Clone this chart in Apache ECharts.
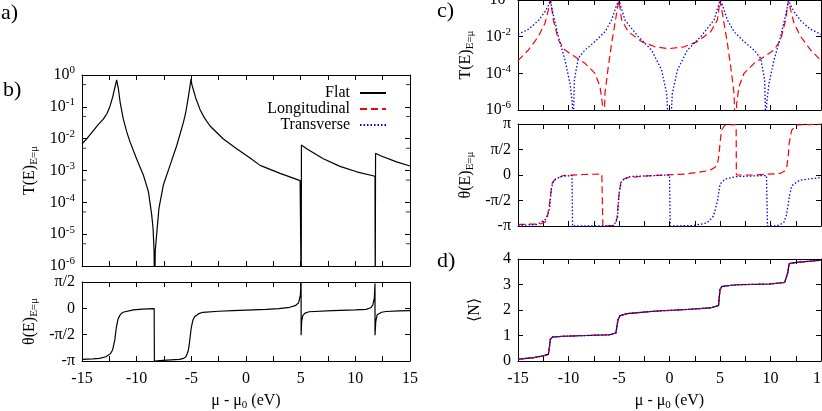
<!DOCTYPE html>
<html>
<head>
<meta charset="UTF-8">
<title>Transmission, phase and occupation vs chemical potential</title>
<script src="https://cdn.jsdelivr.net/npm/echarts@6.0.0/dist/echarts.min.js"></script>
<style>
  html, body { margin: 0; padding: 0; background: #fff; }
  #chart { width: 822px; height: 411px; }
</style>
</head>
<body>
<div id="chart"></div>
<script>
// ---- data (x = mu - mu0 in eV) ----
// panel b: flat molecule, transmission at E = mu
var bFlatT = [
  [-15, 6.9e-3], [-14.5, 1.05e-2], [-13.96, 1.8e-2], [-13.5, 2.8e-2], [-13.05, 4.1e-2],
  [-12.7, 6.3e-2], [-12.44, 0.105], [-12.2, 0.2], [-12.04, 0.35], [-11.92, 0.52], [-11.83, 0.7],
  [-11.75, 0.5], [-11.68, 0.39], [-11.5, 0.13], [-11.22, 4.1e-2], [-10.9, 1.6e-2], [-10.6, 7.8e-3],
  [-10.0, 2.3e-3], [-9.39, 7.2e-4], [-8.93, 2.2e-4], [-8.63, 4.2e-5], [-8.5, 1.5e-5], [-8.41, 3e-6],
  [-8.36, 1e-7], [-8.3, 3e-6], [-8.17, 1e-5], [-7.96, 6.6e-5], [-7.56, 3.5e-4], [-6.95, 1.45e-3],
  [-6.34, 6e-3], [-5.73, 3.2e-2], [-5.5, 7e-2], [-5.27, 0.21], [-5.12, 0.45], [-5.03, 0.74],
  [-4.95, 0.5], [-4.82, 0.35], [-4.6, 0.19], [-4.21, 8.3e-2], [-3.8, 4.5e-2], [-3.29, 2.5e-2],
  [-2.07, 9.8e-3], [-0.85, 4.8e-3], [0.37, 2.45e-3], [1.29, 1.45e-3], [3.12, 8.1e-4],
  [4.95, 4.8e-4], [5.03, 4.2e-4], [5.05, 1e-7], [5.07, 6.3e-3], [5.55, 4.8e-3], [7.07, 2.35e-3],
  [8.6, 1.35e-3], [10.12, 9.1e-4], [11.8, 6.6e-4], [11.82, 1e-7], [11.85, 3.5e-3],
  [12.25, 2.95e-3], [13.77, 1.86e-3], [15, 1.38e-3]
];
// panel b: phase, in units of pi
var bFlatTheta = [
  [-15, -0.97], [-14, -0.96], [-13.4, -0.95], [-12.8, -0.92], [-12.4, -0.86], [-12.2, -0.79],
  [-12.0, -0.6], [-11.86, -0.36], [-11.7, -0.2], [-11.5, -0.12], [-11.25, -0.075], [-10.3, -0.03],
  [-9.5, -0.015], [-8.4, -0.005], [-8.38, -1.0], [-7.6, -0.99], [-6.1, -0.97], [-5.7, -0.95],
  [-5.5, -0.92], [-5.3, -0.82], [-5.2, -0.7], [-5.0, -0.36], [-4.85, -0.22], [-4.7, -0.16],
  [-4.3, -0.1], [-3.95, -0.075], [-2.5, -0.055], [-1.2, -0.045], [0, -0.035], [1.85, -0.02],
  [3.0, -0.005], [4.0, 0.02], [4.5, 0.05], [4.8, 0.1], [4.97, 0.25], [5.04, 0.5], [5.04, -0.51],
  [5.09, -0.25], [5.19, -0.14], [5.4, -0.09], [5.76, -0.065], [7.9, -0.045], [10.0, -0.03],
  [11.0, -0.02], [11.4, 0.01], [11.6, 0.06], [11.74, 0.2], [11.8, 0.47], [11.8, -0.51],
  [11.87, -0.25], [12.0, -0.12], [12.4, -0.075], [12.8, -0.06], [14, -0.05], [15, -0.045]
];
// panel c: transmission
var cLongT = [
  [-15, 4.9e-4], [-13.98, 1.86e-3], [-12.99, 1e-2], [-12.33, 5.4e-2], [-12.0, 0.28], [-11.77, 0.95],
  [-11.5, 8.1e-2], [-11.0, 6.6e-3], [-10.35, 1.86e-3], [-9.36, 8.1e-4], [-8.37, 3.5e-4],
  [-7.38, 1e-4], [-6.88, 1.9e-5], [-6.65, 2.3e-6], [-6.55, 1e-8], [-6.39, 8.1e-6], [-6.06, 2.3e-4],
  [-5.73, 4.4e-3], [-5.4, 5.4e-2], [-5.07, 0.66], [-5.0, 0.95], [-4.74, 8.1e-2], [-4.08, 1.86e-2],
  [-2.76, 5.4e-3], [-1.44, 2.8e-3], [-0.12, 2.2e-3], [1.44, 2.8e-3], [2.76, 5.4e-3],
  [4.08, 1.86e-2], [4.74, 8.1e-2], [5.0, 0.95], [5.07, 0.66], [5.4, 5.4e-2], [5.73, 4.4e-3],
  [6.06, 2.3e-4], [6.39, 8.1e-6], [6.55, 1e-8], [6.65, 2.3e-6], [6.88, 1.9e-5], [7.38, 1e-4],
  [8.37, 3.5e-4], [9.36, 8.1e-4], [10.35, 1.86e-3], [11.0, 6.6e-3], [11.5, 8.1e-2], [11.77, 0.95],
  [12.0, 0.28], [12.33, 5.4e-2], [12.99, 1e-2], [13.98, 1.86e-3], [15, 4.9e-4]
];
var cTransT = [
  [-15, 1.35e-2], [-13.98, 2.5e-2], [-12.99, 7.4e-2], [-12.33, 0.23], [-12.0, 0.5], [-11.8, 0.95],
  [-11.5, 0.15], [-11.0, 1e-2], [-10.35, 5.4e-4], [-9.85, 2.8e-5], [-9.62, 2.3e-6], [-9.59, 1e-8],
  [-9.42, 4.4e-5], [-9.03, 6.6e-4], [-8.37, 1.86e-3], [-7.38, 5.4e-3], [-6.39, 1.86e-2],
  [-5.73, 8.1e-2], [-5.23, 0.54], [-5.0, 0.95], [-4.41, 8.1e-2], [-3.09, 1e-2], [-1.77, 1.86e-3],
  [-0.78, 1.5e-4], [-0.28, 8.1e-6], [0.0, 1e-8], [0.28, 8.1e-6], [0.78, 1.5e-4], [1.77, 1.86e-3],
  [3.09, 1e-2], [4.41, 8.1e-2], [5.0, 0.95], [5.23, 0.54], [5.73, 8.1e-2], [6.39, 1.86e-2],
  [7.38, 5.4e-3], [8.37, 1.86e-3], [9.03, 6.6e-4], [9.42, 4.4e-5], [9.59, 1e-8], [9.62, 2.3e-6],
  [9.85, 2.8e-5], [10.35, 5.4e-4], [11.0, 1e-2], [11.5, 0.15], [11.8, 0.95], [12.0, 0.5],
  [12.33, 0.23], [12.99, 7.4e-2], [13.98, 2.5e-2], [15, 1.35e-2]
];
// panel c: phase, in units of pi
var cLongTheta = [
  [-15, -0.97], [-12.8, -0.96], [-12.3, -0.92], [-12.1, -0.84], [-11.95, -0.65], [-11.8, -0.44],
  [-11.6, -0.15], [-11.3, -0.08], [-10.5, -0.01], [-8.5, 0.01], [-6.7, 0.02], [-6.6, -1.0],
  [-5.5, -0.99], [-5.3, -0.93], [-5.2, -0.84], [-5.0, -0.38], [-4.8, -0.11], [-4.2, -0.05],
  [-1.6, -0.01], [1.7, 0.02], [4.0, 0.09], [4.5, 0.15], [4.75, 0.22], [4.9, 0.4], [5.0, 0.62],
  [5.15, 0.88], [5.5, 0.98], [6.6, 0.99], [6.62, 0.0], [8.3, 0.0], [10.95, 0.03], [11.4, 0.08],
  [11.6, 0.15], [11.75, 0.35], [11.85, 0.62], [12.1, 0.88], [12.6, 0.98], [15, 1.0]
];
var cTransTheta = [
  [-15, -0.99], [-13.1, -0.97], [-12.3, -0.87], [-12.0, -0.75], [-11.85, -0.64], [-11.7, -0.25],
  [-11.45, -0.11], [-10.8, -0.03], [-9.65, -0.01], [-9.6, -1.0], [-6.85, -1.0], [-5.5, -0.99],
  [-5.15, -0.84], [-5.0, -0.38], [-4.75, -0.11], [-3.9, -0.03], [0.0, 0.0], [0.07, -1.0],
  [2.4, -0.99], [3.7, -0.94], [4.35, -0.81], [4.75, -0.51], [5.0, -0.18], [5.5, -0.08],
  [6.65, -0.03], [9.6, -0.01], [9.7, -1.0], [10.6, -1.0], [11.3, -0.94], [11.6, -0.77],
  [11.85, -0.44], [12.1, -0.21], [12.9, -0.1], [15, -0.05]
];
// panel d: mean occupation <N> (the three geometries coincide)
var dN = [
  [-15, 0.07], [-13.45, 0.13], [-12.5, 0.2], [-12.0, 0.26], [-11.9, 0.5], [-11.8, 0.85],
  [-11.6, 0.94], [-10.5, 0.97], [-8.2, 1.0], [-5.9, 1.03], [-5.3, 1.1], [-5.1, 1.62],
  [-4.9, 1.78], [-4.2, 1.86], [-1.6, 1.95], [1.7, 2.02], [4.0, 2.08], [4.85, 2.17], [5.0, 2.8],
  [5.2, 2.93], [6.65, 2.99], [9.95, 3.02], [11.4, 3.08], [11.7, 3.45], [11.85, 3.82],
  [12.6, 3.87], [15, 3.95]
];
var seriesNames = ['Flat', 'Longitudinal', 'Transverse'];
var piTickLabels = { '-1': '-π', '-0.5': '-π/2', '0': '0', '0.5': 'π/2', '1': 'π' };
// minor ticks of the panel b log axis (at 5 x 10^k)
var bMinorTicks = [0.5, 0.05, 5e-3, 5e-4, 5e-5, 5e-6];

var FONT = '"Liberation Serif", "Times New Roman", serif';
var chart = echarts.init(document.getElementById('chart'), null, { renderer: 'canvas' });

var grids = [
  { left: 82, top: 75, width: 328, height: 191 },   // b top
  { left: 82, top: 282, width: 328, height: 79 },   // b bottom
  { left: 518, top: 0, width: 303, height: 110 },   // c top
  { left: 518, top: 124, width: 303, height: 102 }, // c middle
  { left: 518, top: 259, width: 303, height: 102 }  // d
];
grids.forEach(function (g) { g.containLabel = false; g.outerBoundsMode = 'none'; });

var rich = {
  sup: { fontFamily: FONT, fontSize: 11, color: '#000', verticalAlign: 'top', lineHeight: 10 },
  sub: { fontFamily: FONT, fontSize: 11, color: '#000', verticalAlign: 'bottom', lineHeight: 10 },
  base: { fontFamily: FONT, fontSize: 16, color: '#000', lineHeight: 20 }
};
var tickStyle = { inside: true, length: 5, lineStyle: { color: '#000', width: 1 } };
var lineStyleAxis = { onZero: false, lineStyle: { color: '#000', width: 1 } };

function powLabel(v) {
  var e = Math.round(Math.log10(v));
  return '{base|10}{sup|' + e + '}';
}
function piLabel(v) {
  var k = String(Math.round(v * 2) / 2);
  return piTickLabels[k] !== undefined ? '{base|' + piTickLabels[k] + '}' : '';
}

var xAxes = [], yAxes = [];
grids.forEach(function (g, i) {
  var labelled = (i === 1 || i === 4);
  var bottom = {
    gridIndex: i, type: 'value', position: 'bottom', min: -15, max: 15, interval: 2.5,
    axisLine: lineStyleAxis, axisTick: tickStyle, splitLine: { show: false },
    axisLabel: {
      show: labelled, margin: 8, rich: rich,
      formatter: function (v) { return v % 5 === 0 ? '{base|' + v + '}' : ''; }
    }
  };
  if (labelled) {
    bottom.name = '{base|μ - μ}{sub|0}{base| (eV)}';
    bottom.nameLocation = 'middle';
    bottom.nameGap = 30;
    bottom.nameTextStyle = { rich: rich };
  }
  xAxes.push(bottom);
  xAxes.push({
    gridIndex: i, type: 'value', position: 'top', min: -15, max: 15, interval: 2.5,
    axisLine: lineStyleAxis, axisTick: tickStyle, splitLine: { show: false },
    axisLabel: { show: false }
  });
});

function yPair(i, spec) {
  var left = Object.assign({
    gridIndex: i, position: 'left',
    axisLine: lineStyleAxis, axisTick: tickStyle, splitLine: { show: false },
    nameLocation: 'middle', nameTextStyle: { rich: rich }
  }, spec);
  left.axisLabel = Object.assign({ margin: 7, rich: rich }, spec.axisLabel);
  var right = Object.assign({}, left, { position: 'right', name: '', axisLabel: { show: false } });
  yAxes.push(left, right);
}
var tName = '{base|T(E)}{sub|E=μ}';
var thName = '{base|θ(E)}{sub|E=μ}';
yPair(0, { type: 'log', logBase: 10, min: 1e-6, max: 1, name: tName, nameGap: 42,
  axisLabel: { formatter: powLabel } });
yPair(1, { type: 'value', min: -1, max: 0.5, interval: 0.5, name: thName, nameGap: 42,
  axisLabel: { formatter: piLabel } });
yPair(2, { type: 'log', logBase: 100, min: 1e-6, max: 1, name: tName, nameGap: 42,
  axisLabel: { formatter: powLabel } });
yPair(3, { type: 'value', min: -1, max: 1, interval: 0.5, name: thName, nameGap: 42,
  axisLabel: { formatter: piLabel } });
yPair(4, { type: 'value', min: 0, max: 4, interval: 1, name: '{base|⟨N⟩}', nameGap: 33,
  axisLabel: { formatter: function (v) { return '{base|' + v + '}'; } } });

var styles = {
  Flat: { color: '#000000', width: 1.2, type: 'solid' },
  Longitudinal: { color: '#ff0000', width: 1.2, type: [7, 4] },
  Transverse: { color: '#0000ff', width: 1.3, type: [1.5, 2] }
};
function line(name, data, g) {
  return {
    name: name, type: 'line', data: data, xAxisIndex: 2 * g, yAxisIndex: 2 * g,
    showSymbol: false, symbol: 'none', clip: true, silent: true,
    lineStyle: styles[name], itemStyle: { color: styles[name].color }
  };
}
// short inward tick marks at 5x10^k on both sides of panel b's log axis
function minorTickSeries(xEdge, dx) {
  return {
    name: 'minor ticks', type: 'scatter', xAxisIndex: 0, yAxisIndex: 0, silent: true, clip: false,
    data: bMinorTicks.map(function (v) { return [xEdge, v]; }),
    symbol: 'rect', symbolSize: [4, 1], symbolOffset: [dx, 0], itemStyle: { color: '#000' }
  };
}

var option = {
  animation: false,
  backgroundColor: '#fff',
  grid: grids,
  xAxis: xAxes,
  yAxis: yAxes,
  legend: {
    data: seriesNames, orient: 'vertical', align: 'right', right: 430, top: 80,
    itemWidth: 26, itemHeight: 10, itemGap: 0, selectedMode: false,
    itemStyle: { opacity: 0 },
    textStyle: { fontFamily: FONT, fontSize: 16, lineHeight: 16, color: '#000', padding: [0, 5, 0, 0] }
  },
  graphic: [
    { type: 'text', left: 1, top: 2, style: { text: 'a)', font: '22px ' + FONT, fill: '#000' } },
    { type: 'text', left: 3, top: 79, style: { text: 'b)', font: '22px ' + FONT, fill: '#000' } },
    { type: 'text', left: 437, top: 0, style: { text: 'c)', font: '22px ' + FONT, fill: '#000' } },
    { type: 'text', left: 437, top: 250, style: { text: 'd)', font: '22px ' + FONT, fill: '#000' } }
  ],
  series: [
    line('Flat', bFlatT, 0),
    line('Flat', bFlatTheta, 1),
    line('Longitudinal', cLongT, 2),
    line('Transverse', cTransT, 2),
    line('Longitudinal', cLongTheta, 3),
    line('Transverse', cTransTheta, 3),
    line('Flat', dN, 4),
    line('Longitudinal', dN, 4),
    line('Transverse', dN, 4),
    minorTickSeries(-15, 2),
    minorTickSeries(15, -2)
  ]
};
chart.setOption(option);
</script>
</body>
</html>
